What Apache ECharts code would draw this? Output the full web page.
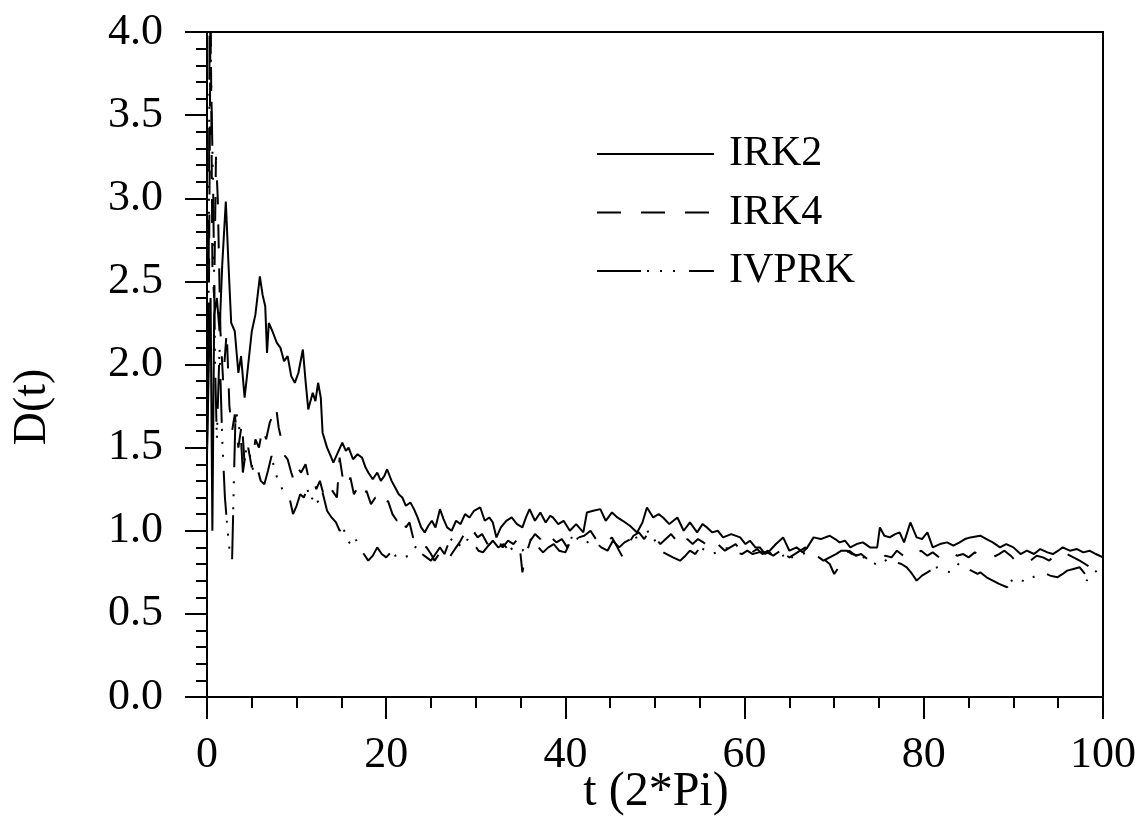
<!DOCTYPE html>
<html>
<head>
<meta charset="utf-8">
<script src="https://cdn.jsdelivr.net/npm/echarts@6/dist/echarts.min.js"></script>
<style>
html,body{margin:0;padding:0;background:#fff;}
#chart{width:1141px;height:823px;}
</style>
</head>
<body>
<div id="chart"></div>
<script>
// ---- data: [t (2*Pi), D(t)] ----
var seriesNames = ['IRK2', 'IRK4', 'IVPRK'];
var xTicks = [0, 20, 40, 60, 80, 100];
var yTicks = [0.0, 0.5, 1.0, 1.5, 2.0, 2.5, 3.0, 3.5, 4.0];

var irk2 = [[0,1.45],[0.2,2.0],[0.4,2.4],[0.6,1.0],[0.8,2.3],[1.1,2.4],[1.4,2.2],[1.7,2.6],[2.1,2.98],[2.4,2.6],[2.7,2.25],[3.1,2.2],[3.5,1.95],[3.8,2.05],[4.2,1.8],[4.6,2.0],[5.0,2.2],[5.4,2.3],[5.9,2.53],[6.2,2.42],[6.5,2.35],[6.7,2.07],[6.9,2.25],[7.3,2.2],[7.8,2.13],[8.2,2.1],[8.6,2.02],[9.0,2.05],[9.4,1.93],[9.8,1.89],[10.2,1.95],[10.7,2.09],[11.0,1.9],[11.3,1.73],[11.8,1.83],[12.1,1.78],[12.4,1.89],[12.7,1.8],[12.9,1.59],[13.4,1.5],[13.8,1.45],[14.1,1.41],[14.6,1.47],[15.1,1.53],[15.5,1.48],[15.8,1.5],[16.3,1.43],[16.8,1.46],[17.3,1.44],[17.7,1.38],[18.0,1.35],[18.5,1.31],[19.0,1.35],[19.4,1.3],[19.8,1.33],[20.1,1.37],[20.6,1.3],[21.0,1.26],[21.4,1.22],[21.8,1.2],[22.2,1.15],[22.7,1.17],[23.1,1.13],[23.5,1.08],[23.9,1.02],[24.3,0.99],[24.7,1.03],[25.1,1.06],[25.5,1.02],[26.0,1.13],[26.4,1.07],[26.8,1.02],[27.3,1.0],[27.8,1.06],[28.3,1.04],[28.8,1.1],[29.3,1.08],[29.8,1.12],[30.5,1.14],[31,1.06],[31.5,1.08],[31.9,1.05],[32.3,0.96],[32.8,1.02],[33.4,1.06],[34,1.08],[34.6,1.04],[35.2,1.02],[35.6,1.08],[36,1.13],[36.6,1.06],[37.2,1.11],[37.8,1.05],[38.3,1.09],[38.6,1.08],[39.2,1.04],[39.8,1.06],[40.5,1.0],[41.2,1.04],[42,0.99],[42.4,1.11],[43.1,1.12],[43.9,1.13],[44.5,1.06],[45.2,1.11],[45.8,1.08],[46.4,1.06],[47.2,1.03],[48,0.99],[48.6,1.05],[49.1,1.14],[49.8,1.08],[50.4,1.1],[50.9,1.08],[51.6,1.04],[52.5,1.08],[53.2,1.0],[53.9,1.05],[54.7,0.99],[55.3,1.04],[55.8,1.02],[56.4,0.99],[57,1.0],[57.6,0.96],[58.5,0.98],[59.5,0.96],[60.1,0.92],[60.6,0.94],[61.2,0.9],[61.7,0.9],[62.3,0.86],[62.8,0.88],[63.5,0.92],[64.3,0.96],[65,0.88],[65.8,0.9],[66.5,0.87],[67,0.9],[67.7,0.96],[68.5,0.95],[69.5,0.97],[70.1,0.95],[70.6,0.93],[71.2,0.94],[71.8,0.9],[72.5,0.92],[73.2,0.93],[74,0.9],[74.8,0.9],[75.1,1.02],[75.6,0.97],[76.2,0.96],[76.8,0.98],[77.3,0.99],[77.8,0.93],[78.5,1.05],[79.2,0.96],[79.8,0.95],[80.4,0.99],[81,0.9],[81.8,0.92],[82.6,0.93],[83.3,0.91],[84,0.93],[84.6,0.95],[85.2,0.96],[86.3,0.97],[87,0.95],[87.7,0.93],[88.5,0.9],[89.2,0.92],[90,0.9],[90.8,0.86],[91.5,0.88],[92.3,0.86],[93,0.89],[93.8,0.87],[94.4,0.86],[95,0.88],[95.5,0.9],[96.3,0.88],[97.1,0.89],[97.8,0.87],[98.5,0.88],[99.2,0.86],[100,0.84]];

var irk4 = [[0,1.7],[0.2,2.3],[0.4,4.2],[0.6,2.6],[0.8,2.4],[1.0,3.25],[1.2,3.0],[1.5,2.2],[1.8,1.9],[2.2,2.2],[2.5,1.75],[2.8,1.6],[3.1,1.7],[3.5,1.5],[3.9,1.65],[4.2,1.4],[4.6,1.5],[5.0,1.38],[5.4,1.55],[5.8,1.5],[6.2,1.62],[6.6,1.55],[7.0,1.65],[7.4,1.7],[7.7,1.75],[8.0,1.62],[8.3,1.55],[8.7,1.45],[9.0,1.43],[9.4,1.35],[9.7,1.3],[10.1,1.38],[10.5,1.35],[11.0,1.4],[11.4,1.3],[11.8,1.32],[12.2,1.25],[12.6,1.3],[13.0,1.22],[13.5,1.28],[14.0,1.24],[14.5,1.2],[14.8,1.44],[15.2,1.3],[15.6,1.26],[16.0,1.32],[16.4,1.22],[16.8,1.26],[17.3,1.2],[17.8,1.24],[18.3,1.16],[18.8,1.2],[19.3,1.19],[19.8,1.14],[20.2,1.18],[20.7,1.1],[21.2,1.06],[21.7,1.1],[22.2,1.02],[22.6,1.05],[23.0,0.96],[23.5,0.98],[24.0,0.92],[24.5,0.9],[25.0,0.86],[25.4,0.82],[25.9,0.86],[26.4,0.84],[26.8,0.81],[27.3,0.86],[27.8,0.9],[28.2,0.93],[28.7,0.98],[29.2,0.95],[29.7,1.0],[30.2,0.96],[30.7,0.98],[31.3,0.92],[31.8,0.97],[32.4,0.95],[33,0.9],[33.6,0.94],[34.2,0.92],[34.8,0.96],[35.2,0.75],[35.6,0.86],[36.1,0.94],[36.6,0.98],[37.2,0.95],[37.8,1.0],[38.4,0.96],[39,0.93],[39.6,0.95],[40.2,0.9],[40.9,0.99],[41.5,0.96],[42.1,0.97],[42.8,1.0],[43.4,0.95],[44,0.97],[44.6,0.93],[45.2,0.96],[45.8,0.9],[46.4,0.84],[47,0.92],[47.6,0.97],[48.2,0.99],[48.8,0.95],[49.4,1.0],[50,0.96],[50.6,0.92],[51.2,0.95],[51.8,0.98],[52.4,0.94],[53,0.9],[53.6,0.95],[54.2,0.92],[54.8,0.95],[55.4,0.93],[56,0.9],[56.6,0.94],[57.2,0.91],[57.8,0.88],[58.4,0.9],[59,0.92],[59.6,0.88],[60.2,0.9],[60.8,0.87],[61.4,0.89],[62,0.86],[62.6,0.88],[63.2,0.85],[63.8,0.88],[64.4,0.86],[65,0.84],[65.6,0.86],[66.2,0.88],[66.8,0.9],[67.4,0.87],[68,0.85],[68.8,0.83],[69.5,0.8],[70,0.74],[70.5,0.78],[71.1,0.86],[71.7,0.88],[72.4,0.85],[73,0.86],[73.7,0.83],[74.4,0.84],[75,0.82],[75.7,0.85],[76.4,0.84],[77,0.88],[77.7,0.85],[78.4,0.83],[79,0.86],[79.7,0.88],[80.4,0.85],[81,0.87],[81.7,0.84],[82.4,0.86],[83,0.88],[83.7,0.85],[84.4,0.86],[85,0.84],[85.7,0.87],[86.4,0.85],[87,0.86],[87.7,0.84],[88.4,0.86],[89,0.88],[89.7,0.85],[90.4,0.81],[91,0.83],[91.9,0.82],[92.6,0.85],[93.3,0.84],[94,0.82],[94.7,0.86],[95.4,0.84],[96,0.86],[96.7,0.84],[97.4,0.82],[98,0.8],[98.6,0.78],[99.3,0.77],[100,0.76]];

var ivprk = [[0,1.5],[0.15,2.0],[0.3,4.2],[0.5,4.2],[0.7,3.0],[0.9,2.0],[1.1,1.55],[1.4,2.1],[1.7,1.55],[2.0,1.2],[2.3,1.0],[2.6,0.84],[2.8,0.82],[3.0,1.3],[3.2,1.73],[3.5,1.65],[3.8,1.55],[4.0,1.35],[4.4,1.5],[4.8,1.45],[5.2,1.35],[5.6,1.38],[6.0,1.3],[6.4,1.28],[6.8,1.36],[7.2,1.45],[7.6,1.35],[8.0,1.3],[8.4,1.25],[8.8,1.22],[9.2,1.2],[9.6,1.1],[10.0,1.15],[10.4,1.22],[10.8,1.2],[11.2,1.25],[11.6,1.18],[12.0,1.22],[12.5,1.16],[12.9,1.23],[13.4,1.12],[13.9,1.08],[14.4,1.05],[14.8,1.0],[15.2,1.02],[15.6,0.95],[16.0,0.92],[16.5,0.96],[17.0,0.9],[17.5,0.86],[18.0,0.82],[18.5,0.85],[19.0,0.9],[19.5,0.86],[20.0,0.84],[20.5,0.87],[21.0,0.85],[21.5,0.86],[22.0,0.84],[22.5,0.85],[23.0,0.88],[23.5,0.92],[24.0,0.86],[24.5,0.84],[25.0,0.82],[25.5,0.86],[26.0,0.9],[26.5,0.86],[27.0,0.93],[27.5,0.96],[28.0,0.92],[28.6,0.9],[29.2,0.96],[29.8,0.92],[30.3,0.88],[30.8,0.87],[31.4,0.91],[31.9,0.94],[32.5,0.9],[33.1,0.92],[33.7,0.88],[34.2,0.9],[34.6,0.9],[35.2,0.88],[35.8,0.93],[36.4,0.96],[37,0.9],[37.5,0.87],[38.1,0.9],[38.7,0.92],[39.3,0.88],[40,0.87],[40.5,0.93],[40.9,0.99],[41.5,0.94],[42.2,0.95],[42.8,0.91],[43.4,0.93],[44,0.9],[44.7,0.88],[45.3,0.94],[46,0.9],[46.6,0.93],[47.3,0.95],[48,0.96],[48.7,0.98],[49.4,1.0],[50,0.94],[50.6,0.88],[51.3,0.86],[52,0.84],[52.8,0.82],[53.4,0.85],[53.9,0.88],[54.5,0.86],[55,0.9],[55.7,0.88],[56.3,0.86],[56.9,0.87],[57.6,0.89],[58.4,0.9],[59,0.87],[59.7,0.86],[60.3,0.88],[60.9,0.86],[61.6,0.87],[62.5,0.87],[63.2,0.85],[64,0.88],[64.6,0.82],[65.2,0.84],[65.8,0.84],[66.4,0.86],[67,0.87],[67.7,0.85],[68.3,0.84],[68.8,0.82],[69.5,0.84],[70.2,0.86],[70.8,0.88],[71.4,0.88],[72,0.86],[72.7,0.85],[73.3,0.84],[74,0.82],[74.6,0.8],[75,0.79],[75.7,0.82],[76.3,0.84],[76.9,0.81],[77.5,0.8],[78.1,0.78],[78.7,0.74],[79.2,0.7],[79.8,0.73],[80.4,0.75],[81,0.77],[81.5,0.78],[82.2,0.76],[83,0.75],[83.6,0.78],[84,0.81],[84.6,0.78],[85.3,0.76],[86,0.74],[86.3,0.75],[87,0.72],[87.7,0.7],[88.4,0.68],[89.3,0.66],[89.8,0.7],[90.4,0.72],[91,0.7],[91.5,0.69],[92.2,0.72],[92.8,0.74],[93.3,0.75],[94.1,0.73],[94.9,0.72],[95.5,0.74],[96,0.76],[96.7,0.77],[97.4,0.78],[98,0.74],[98.2,0.7],[98.7,0.73],[99.3,0.76],[100,0.76]];

var FONT = "'Liberation Serif', 'DejaVu Serif', serif";
var chart = echarts.init(document.getElementById('chart'), null, {renderer: 'canvas'});

chart.setOption({
  backgroundColor: '#fff',
  animation: false,
  grid: {left: 207, right: 38, top: 32, bottom: 126, show: true, borderColor: '#000', borderWidth: 2, backgroundColor: 'transparent'},
  legend: {
    orient: 'vertical', left: 591, top: 128,
    itemWidth: 117, itemHeight: 20, itemGap: 16.5,
    data: seriesNames,
    itemStyle: {opacity: 0},
    textStyle: {fontFamily: FONT, fontSize: 42, color: '#000', padding: [0, 0, 0, 10], lineHeight: 40},
    selectedMode: false
  },
  xAxis: {
    type: 'value', min: 0, max: 100, interval: 20,
    axisLine: {lineStyle: {color: '#000', width: 2}},
    axisTick: {show: true, inside: false, length: 22, lineStyle: {color: '#000', width: 2}},
    minorTick: {show: true, splitNumber: 4, length: 11, lineStyle: {color: '#000', width: 2}},
    splitLine: {show: false},
    axisLabel: {fontFamily: FONT, fontSize: 44, color: '#000', margin: 36,
      formatter: function (v) { return xTicks.indexOf(v) >= 0 ? String(v) : ''; }}
  },
  yAxis: {
    type: 'value', min: 0, max: 4, interval: 0.5,
    axisLine: {lineStyle: {color: '#000', width: 2}},
    axisTick: {show: true, inside: false, length: 22, lineStyle: {color: '#000', width: 2}},
    minorTick: {show: true, splitNumber: 5, length: 11, lineStyle: {color: '#000', width: 2}},
    splitLine: {show: false},
    axisLabel: {fontFamily: FONT, fontSize: 44, color: '#000', margin: 44,
      formatter: function (v) { return v.toFixed(1); }}
  },
  graphic: [
    {type: 'text', x: 33, y: 407, rotation: Math.PI / 2,
      style: {text: 'D(t)', font: "46px 'Liberation Serif', serif", fill: '#000', align: 'center', verticalAlign: 'middle'}},
    {type: 'text', x: 656, y: 792,
      style: {text: 't (2*Pi)', font: "48px 'Liberation Serif', serif", fill: '#000', align: 'center', verticalAlign: 'middle'}}
  ],
  series: [
    {name: seriesNames[0], type: 'line', data: irk2, symbol: 'none', clip: true,
      lineStyle: {color: '#000', width: 2, type: 'solid'}, itemStyle: {color: '#000'}},
    {name: seriesNames[1], type: 'line', data: irk4, symbol: 'none', clip: true,
      lineStyle: {color: '#000', width: 2, type: [24, 20]}, itemStyle: {color: '#000'}},
    {name: seriesNames[2], type: 'line', data: ivprk, symbol: 'none', clip: true,
      lineStyle: {color: '#000', width: 2, type: [44, 6, 2, 11, 2, 11, 2, 14]}, itemStyle: {color: '#000'}}
  ]
});
</script>
</body>
</html>
